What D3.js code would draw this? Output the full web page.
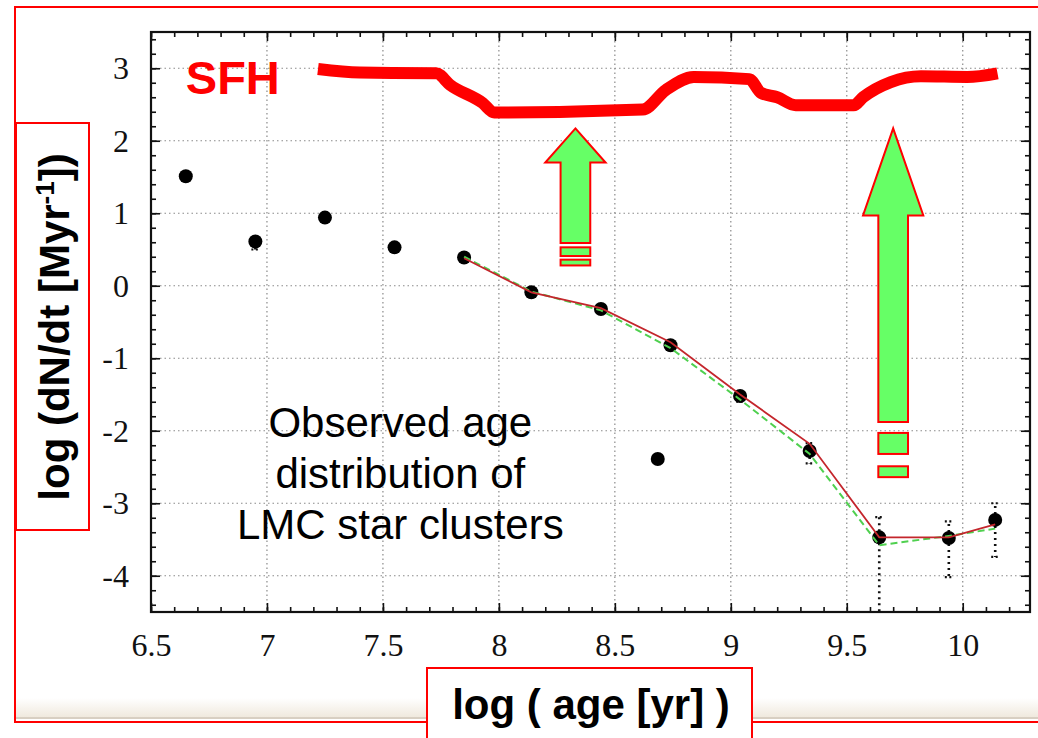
<!DOCTYPE html>
<html>
<head>
<meta charset="utf-8">
<script src="https://cdn.jsdelivr.net/npm/d3@7"></script>
<style>
  body { margin: 0; background: #fff; }
  svg { display: block; }
</style>
</head>
<body>
<div id="chart"></div>
<script>
// observed cluster age distribution (log age, log dN/dt)
const ageBins  = [6.65, 6.95, 7.25, 7.55, 7.85, 8.14, 8.44, 8.74, 9.04, 9.34, 9.64, 9.94, 10.14];
const logRate  = [1.51, 0.61, 0.94, 0.53, 0.39, -0.09, -0.32, -0.82, -1.52, -2.28, -3.47, -3.48, -3.23];
const errLow   = [null, 0.50, null, null, null, null, null, null, -1.60, -2.45, -4.50, -4.02, -3.74];
const errHigh  = [null, null, null, null, null, null, null, null, -1.46, -2.17, -3.19, -3.25, -3.00];

// lone outlier point
const outlierAge = [8.685];
const outlierRate = [-2.39];

// model curves through the older bins
const fitAge   = [7.85, 8.14, 8.44, 8.74, 9.04, 9.34, 9.64, 9.94, 10.14];
const redFit   = [0.38, -0.09, -0.31, -0.78, -1.50, -2.18, -3.47, -3.47, -3.29];
const greenFit = [0.40, -0.08, -0.34, -0.86, -1.57, -2.32, -3.58, -3.45, -3.35];

// star formation history curve
const sfhAge  = [7.22, 7.40, 7.73, 7.79, 7.93, 7.98, 8.62, 8.72, 8.84, 9.08, 9.13, 9.20, 9.28, 9.53, 9.57, 9.69, 9.82, 10.02, 10.15];
const sfhRate = [2.99, 2.94, 2.93, 2.77, 2.52, 2.39, 2.43, 2.70, 2.88, 2.85, 2.66, 2.60, 2.49, 2.49, 2.60, 2.81, 2.89, 2.88, 2.93];

// axis ticks
const xMajor = [6.5, 7, 7.5, 8, 8.5, 9, 9.5, 10];
const yMajor = [-4, -3, -2, -1, 0, 1, 2, 3];
const xMinor = d3.range(65, 103).map(d => d / 10);
const yMinor = d3.range(-22, 18).map(d => d / 5);

// arrows (age, tip, head base, shaft bottom, bars)
const arrowAge  = [8.33, 9.70];
const arrowTip  = [2.17, 2.17];
const arrowHead = [1.70, 0.97];
const arrowBase = [0.59, -1.88];
const arrowBars = [[[0.53, 0.41], [0.36, 0.28]], [[-2.03, -2.32], [-2.49, -2.64]]];

const W = 1038, H = 738;
const margin = {top: 32, right: 8, bottom: 126, left: 151};
const plotW = W - margin.left - margin.right;
const plotH = H - margin.top - margin.bottom;
const serif = '"Liberation Serif", "DejaVu Serif", "Times New Roman", Times, serif';

const svg = d3.select('#chart').append('svg')
    .attr('width', W)
    .attr('height', H);

// background band + outer red frame
const defs = svg.append('defs');
const grad = defs.append('linearGradient').attr('id', 'band')
    .attr('x1', 0).attr('y1', 0).attr('x2', 0).attr('y2', 1);
grad.append('stop').attr('offset', '0%').attr('stop-color', '#ffffff');
grad.append('stop').attr('offset', '100%').attr('stop-color', '#efe8dc');
svg.append('rect').attr('x', 16).attr('y', 698).attr('width', W).attr('height', 20).attr('fill', 'url(#band)');
svg.append('line').attr('x1', 16).attr('x2', W).attr('y1', 718).attr('y2', 718)
    .attr('stroke', '#d8cfc2').attr('stroke-width', 2);
svg.append('rect')
    .attr('x', 15).attr('y', 7)
    .attr('width', W + 20).attr('height', 715)
    .attr('fill', 'none')
    .attr('stroke', '#ff0000')
    .attr('stroke-width', 2);

const x = d3.scaleLinear().domain([6.5, 10.29]).range([0, plotW]);
const y = d3.scaleLinear().domain([-4.5, 3.5]).range([plotH, 0]);

const g = svg.append('g')
    .attr('transform', `translate(${margin.left}, ${margin.top})`);

// dotted grid
g.append('g')
  .selectAll('line')
  .data(xMajor.slice(1))
  .join('line')
    .attr('x1', d => x(d)).attr('x2', d => x(d))
    .attr('y1', 0).attr('y2', plotH)
    .attr('stroke', '#8a8a8a')
    .attr('stroke-width', 1.2)
    .attr('stroke-dasharray', '1.5,3');
g.append('g')
  .selectAll('line')
  .data(yMajor)
  .join('line')
    .attr('x1', 0).attr('x2', plotW)
    .attr('y1', d => y(d)).attr('y2', d => y(d))
    .attr('stroke', '#8a8a8a')
    .attr('stroke-width', 1.2)
    .attr('stroke-dasharray', '1.5,3');

// axes, ticks pointing inward
const fmt = d => String(d);
const styleLabels = a => a.attr('font-family', serif).attr('font-size', 32)
    .selectAll('text')
      .style('font-family', serif)
      .style('font-size', '32px')
      .attr('fill', '#111');

g.append('g')
  .attr('transform', `translate(0, ${plotH})`)
  .call(d3.axisBottom(x).tickValues(xMinor).tickSize(-5).tickFormat(''))
  .call(a => a.select('.domain').remove());
g.append('g')
  .attr('transform', `translate(0, ${plotH})`)
  .call(d3.axisBottom(x).tickValues(xMajor).tickSize(-9).tickPadding(21).tickFormat(fmt))
  .call(a => a.select('.domain').remove())
  .call(styleLabels);
g.append('g')
  .call(d3.axisTop(x).tickValues(xMinor).tickSize(-5).tickFormat(''))
  .call(a => a.select('.domain').remove());
g.append('g')
  .call(d3.axisTop(x).tickValues(xMajor).tickSize(-9).tickFormat(''))
  .call(a => a.select('.domain').remove());

g.append('g')
  .call(d3.axisLeft(y).tickValues(yMinor).tickSize(-5).tickFormat(''))
  .call(a => a.select('.domain').remove());
g.append('g')
  .call(d3.axisLeft(y).tickValues(yMajor).tickSize(-9).tickPadding(22).tickFormat(fmt))
  .call(a => a.select('.domain').remove())
  .call(styleLabels);
g.append('g')
  .attr('transform', `translate(${plotW}, 0)`)
  .call(d3.axisRight(y).tickValues(yMinor).tickSize(-5).tickFormat(''))
  .call(a => a.select('.domain').remove());
g.append('g')
  .attr('transform', `translate(${plotW}, 0)`)
  .call(d3.axisRight(y).tickValues(yMajor).tickSize(-9).tickFormat(''))
  .call(a => a.select('.domain').remove());

g.selectAll('.tick line').attr('stroke', '#111').attr('stroke-width', 1.6);

g.append('rect')
  .attr('width', plotW).attr('height', plotH)
  .attr('fill', 'none')
  .attr('stroke', '#111')
  .attr('stroke-width', 2.2);

// error bars
const errs = ageBins.map((a, i) => ({a, lo: errLow[i], hi: errHigh[i], v: logRate[i]}));
const eg = g.append('g')
  .attr('stroke', '#111')
  .attr('stroke-width', 2.6)
  .attr('stroke-dasharray', '2,4');
errs.filter(d => d.lo !== null).forEach(d => {
  eg.append('line')
    .attr('x1', x(d.a)).attr('x2', x(d.a))
    .attr('y1', y(d.v)).attr('y2', y(d.lo));
});
errs.filter(d => d.hi !== null).forEach(d => {
  eg.append('line')
    .attr('x1', x(d.a)).attr('x2', x(d.a))
    .attr('y1', y(d.v)).attr('y2', y(d.hi));
});
const caps = errs.flatMap(d => [d.lo, d.hi].filter(v => v !== null && v > -4.4).map(v => ({a: d.a, v})));
g.append('g')
  .selectAll('line')
  .data(caps)
  .join('line')
    .attr('x1', d => x(d.a) - 4).attr('x2', d => x(d.a) + 4)
    .attr('y1', d => y(d.v)).attr('y2', d => y(d.v))
    .attr('stroke', '#111')
    .attr('stroke-width', 2.2)
    .attr('stroke-dasharray', '2,2.5');

// data dots
const pts = ageBins.map((a, i) => ({a, v: logRate[i]}))
  .concat(outlierAge.map((a, i) => ({a, v: outlierRate[i]})));
g.append('g')
  .selectAll('circle')
  .data(pts)
  .join('circle')
    .attr('cx', d => x(d.a))
    .attr('cy', d => y(d.v))
    .attr('r', 7)
    .attr('fill', '#000');

// model lines
const line = d3.line().x(d => x(d[0])).y(d => y(d[1]));
g.append('path')
  .datum(fitAge.map((a, i) => [a, greenFit[i]]))
  .attr('d', line)
  .attr('fill', 'none')
  .attr('stroke', '#4fd04f')
  .attr('stroke-width', 2)
  .attr('stroke-dasharray', '7,4');
g.append('path')
  .datum(fitAge.map((a, i) => [a, redFit[i]]))
  .attr('d', line)
  .attr('fill', 'none')
  .attr('stroke', '#c4262c')
  .attr('stroke-width', 1.8);

// SFH curve
const sfhLine = d3.line().x(d => x(d[0])).y(d => y(d[1])).curve(d3.curveMonotoneX);
g.append('path')
  .datum(sfhAge.map((a, i) => [a, sfhRate[i]]))
  .attr('d', sfhLine)
  .attr('fill', 'none')
  .attr('stroke', '#ff0000')
  .attr('stroke-width', 12)
  .attr('stroke-linejoin', 'round');

g.append('text')
  .attr('x', x(6.65))
  .attr('y', y(2.64))
  .attr('font-family', '"Liberation Sans", Arial, sans-serif')
  .attr('font-weight', 'bold')
  .attr('font-size', '47px')
  .attr('fill', '#ff0000')
  .text('SFH');

// green arrows
const shaftHalf = 0.064, headHalf = 0.13;
arrowAge.forEach((a, i) => {
  const pts = [
    [a, arrowTip[i]],
    [a + headHalf, arrowHead[i]],
    [a + shaftHalf, arrowHead[i]],
    [a + shaftHalf, arrowBase[i]],
    [a - shaftHalf, arrowBase[i]],
    [a - shaftHalf, arrowHead[i]],
    [a - headHalf, arrowHead[i]]
  ];
  g.append('path')
    .attr('d', line(pts) + 'Z')
    .attr('fill', '#66ff66')
    .attr('stroke', '#ff0000')
    .attr('stroke-width', 2);
  arrowBars[i].forEach(b => {
    g.append('rect')
      .attr('x', x(a - shaftHalf))
      .attr('y', y(b[0]))
      .attr('width', x(a + shaftHalf) - x(a - shaftHalf))
      .attr('height', y(b[1]) - y(b[0]))
      .attr('fill', '#66ff66')
      .attr('stroke', '#ff0000')
      .attr('stroke-width', 2);
  });
});

// caption inside plot
const caption = ['Observed age', 'distribution of', 'LMC star clusters'];
g.append('text')
  .attr('text-anchor', 'middle')
  .attr('font-family', '"Liberation Sans", Arial, sans-serif')
  .attr('font-size', '42px')
  .attr('fill', '#000')
  .selectAll('tspan')
  .data(caption)
  .join('tspan')
    .attr('x', x(7.575))
    .attr('y', (d, i) => y(-2.09) + i * 51)
    .text(d => d);

// axis titles in red boxes
svg.append('rect')
  .attr('x', 16).attr('y', 123).attr('width', 73).attr('height', 407)
  .attr('fill', '#fff').attr('stroke', '#ff0000').attr('stroke-width', 2);
const yt = svg.append('text')
  .attr('transform', 'translate(69, 327) rotate(-90)')
  .attr('text-anchor', 'middle')
  .attr('font-family', '"Liberation Sans", Arial, sans-serif')
  .attr('font-weight', 'bold')
  .attr('font-size', '42px')
  .attr('fill', '#000');
yt.append('tspan').text('log (dN/dt [Myr');
yt.append('tspan').attr('baseline-shift', 'super').attr('font-size', '26px').text('-1');
yt.append('tspan').text('])');

svg.append('rect')
  .attr('x', 427).attr('y', 668).attr('width', 325).attr('height', 90)
  .attr('fill', '#fff').attr('stroke', '#ff0000').attr('stroke-width', 2);
svg.append('text')
  .attr('x', 591).attr('y', 719)
  .attr('text-anchor', 'middle')
  .attr('font-family', '"Liberation Sans", Arial, sans-serif')
  .attr('font-weight', 'bold')
  .attr('font-size', '42px')
  .attr('fill', '#000')
  .text('log ( age [yr] )');
</script>
</body>
</html>
